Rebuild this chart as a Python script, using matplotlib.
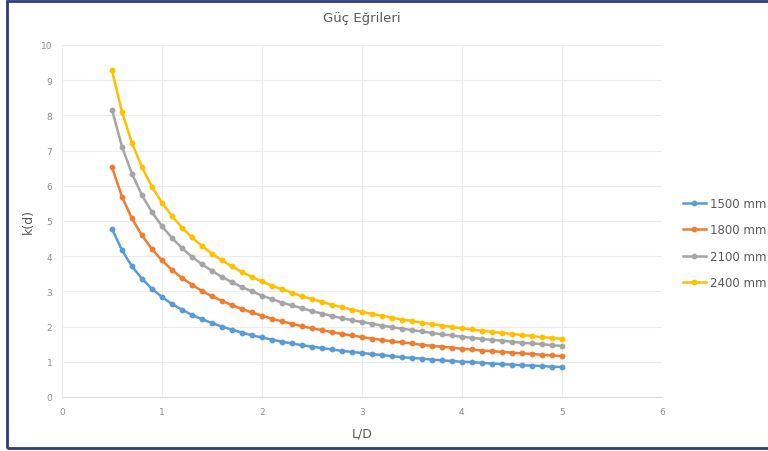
import matplotlib
matplotlib.use("Agg")
import matplotlib.pyplot as plt
from matplotlib.patches import Rectangle

x = [0.5, 0.6, 0.7, 0.8, 0.9, 1.0, 1.1, 1.2, 1.3, 1.4, 1.5, 1.6, 1.7, 1.8, 1.9,
     2.0, 2.1, 2.2, 2.3, 2.4, 2.5, 2.6, 2.7, 2.8, 2.9, 3.0, 3.1, 3.2, 3.3, 3.4,
     3.5, 3.6, 3.7, 3.8, 3.9, 4.0, 4.1, 4.2, 4.3, 4.4, 4.5, 4.6, 4.7, 4.8, 4.9, 5.0]

s1500 = [4.78, 4.17, 3.71, 3.36, 3.07, 2.84, 2.64, 2.48, 2.33, 2.21, 2.10, 2.00, 1.91, 1.83, 1.75,
         1.69, 1.63, 1.57, 1.52, 1.47, 1.43, 1.39, 1.35, 1.31, 1.28, 1.25, 1.22, 1.19, 1.16, 1.13,
         1.11, 1.09, 1.06, 1.04, 1.02, 1.00, 0.99, 0.97, 0.95, 0.93, 0.92, 0.90, 0.89, 0.88, 0.86, 0.85]
s1800 = [6.53, 5.69, 5.07, 4.59, 4.20, 3.88, 3.61, 3.38, 3.19, 3.01, 2.86, 2.73, 2.61, 2.50, 2.40,
         2.31, 2.22, 2.15, 2.08, 2.01, 1.95, 1.90, 1.84, 1.79, 1.75, 1.70, 1.66, 1.62, 1.58, 1.55,
         1.52, 1.48, 1.45, 1.43, 1.40, 1.37, 1.35, 1.32, 1.30, 1.28, 1.26, 1.24, 1.22, 1.20, 1.18, 1.16]
s2100 = [8.16, 7.11, 6.34, 5.73, 5.25, 4.85, 4.52, 4.23, 3.98, 3.77, 3.58, 3.41, 3.26, 3.12, 3.00,
         2.88, 2.78, 2.68, 2.60, 2.52, 2.44, 2.37, 2.30, 2.24, 2.18, 2.13, 2.08, 2.03, 1.98, 1.94,
         1.90, 1.86, 1.82, 1.78, 1.75, 1.71, 1.68, 1.65, 1.62, 1.60, 1.57, 1.54, 1.52, 1.50, 1.47, 1.45]
s2400 = [9.28, 8.10, 7.21, 6.53, 5.97, 5.52, 5.14, 4.81, 4.53, 4.29, 4.07, 3.88, 3.71, 3.55, 3.41,
         3.28, 3.16, 3.06, 2.96, 2.86, 2.78, 2.70, 2.62, 2.55, 2.48, 2.42, 2.36, 2.31, 2.25, 2.20,
         2.16, 2.11, 2.07, 2.03, 1.99, 1.95, 1.92, 1.88, 1.85, 1.82, 1.79, 1.76, 1.73, 1.70, 1.68, 1.65]

labels = ["1500 mm", "1800 mm", "2100 mm", "2400 mm"]
colors = ["#5B9BD5", "#ED7D31", "#A5A5A5", "#FFC000"]
series = [s1500, s1800, s2100, s2400]
xticks = [0, 1, 2, 3, 4, 5, 6]
yticks = [0, 1, 2, 3, 4, 5, 6, 7, 8, 9, 10]

fig = plt.figure(figsize=(7.68, 4.52), dpi=100)
ax = fig.add_axes([0.0807, 0.1195, 0.781, 0.779])

for s, c, lab in zip(series, colors, labels):
    ax.plot(x, s, color=c, lw=1.8, marker="o", ms=3.2, label=lab)

ax.set_xlim(0, 6)
ax.set_ylim(0, 10)
ax.set_xticks(xticks)
ax.set_yticks(yticks)
ax.grid(True, color="#EBEBEB", lw=0.8)
ax.set_axisbelow(True)
for sp in ["top", "right", "left"]:
    ax.spines[sp].set_visible(False)
ax.spines["bottom"].set_color("#D9D9D9")
ax.tick_params(length=0, labelsize=6.5, colors="#8C8C8C", pad=7)

ax.set_title("Güç Eğrileri", fontsize=9.5, color="#595959", pad=17)
ax.set_xlabel("L/D", fontsize=9, color="#595959", labelpad=8)
ax.set_ylabel("k(d)", fontsize=9, color="#595959", labelpad=4)

leg = fig.legend(loc="center left", bbox_to_anchor=(0.875, 0.46), frameon=False,
                 fontsize=8.5, labelspacing=1.15, handlelength=2.0, handletextpad=0.3)
for t in leg.get_texts():
    t.set_color("#595959")

fig.patches.append(Rectangle((0.009, 0.006), 1.2, 0.99, transform=fig.transFigure,
                             fill=False, edgecolor="#2F3B7A", lw=2.0))

fig.savefig("out.png", dpi=100)
